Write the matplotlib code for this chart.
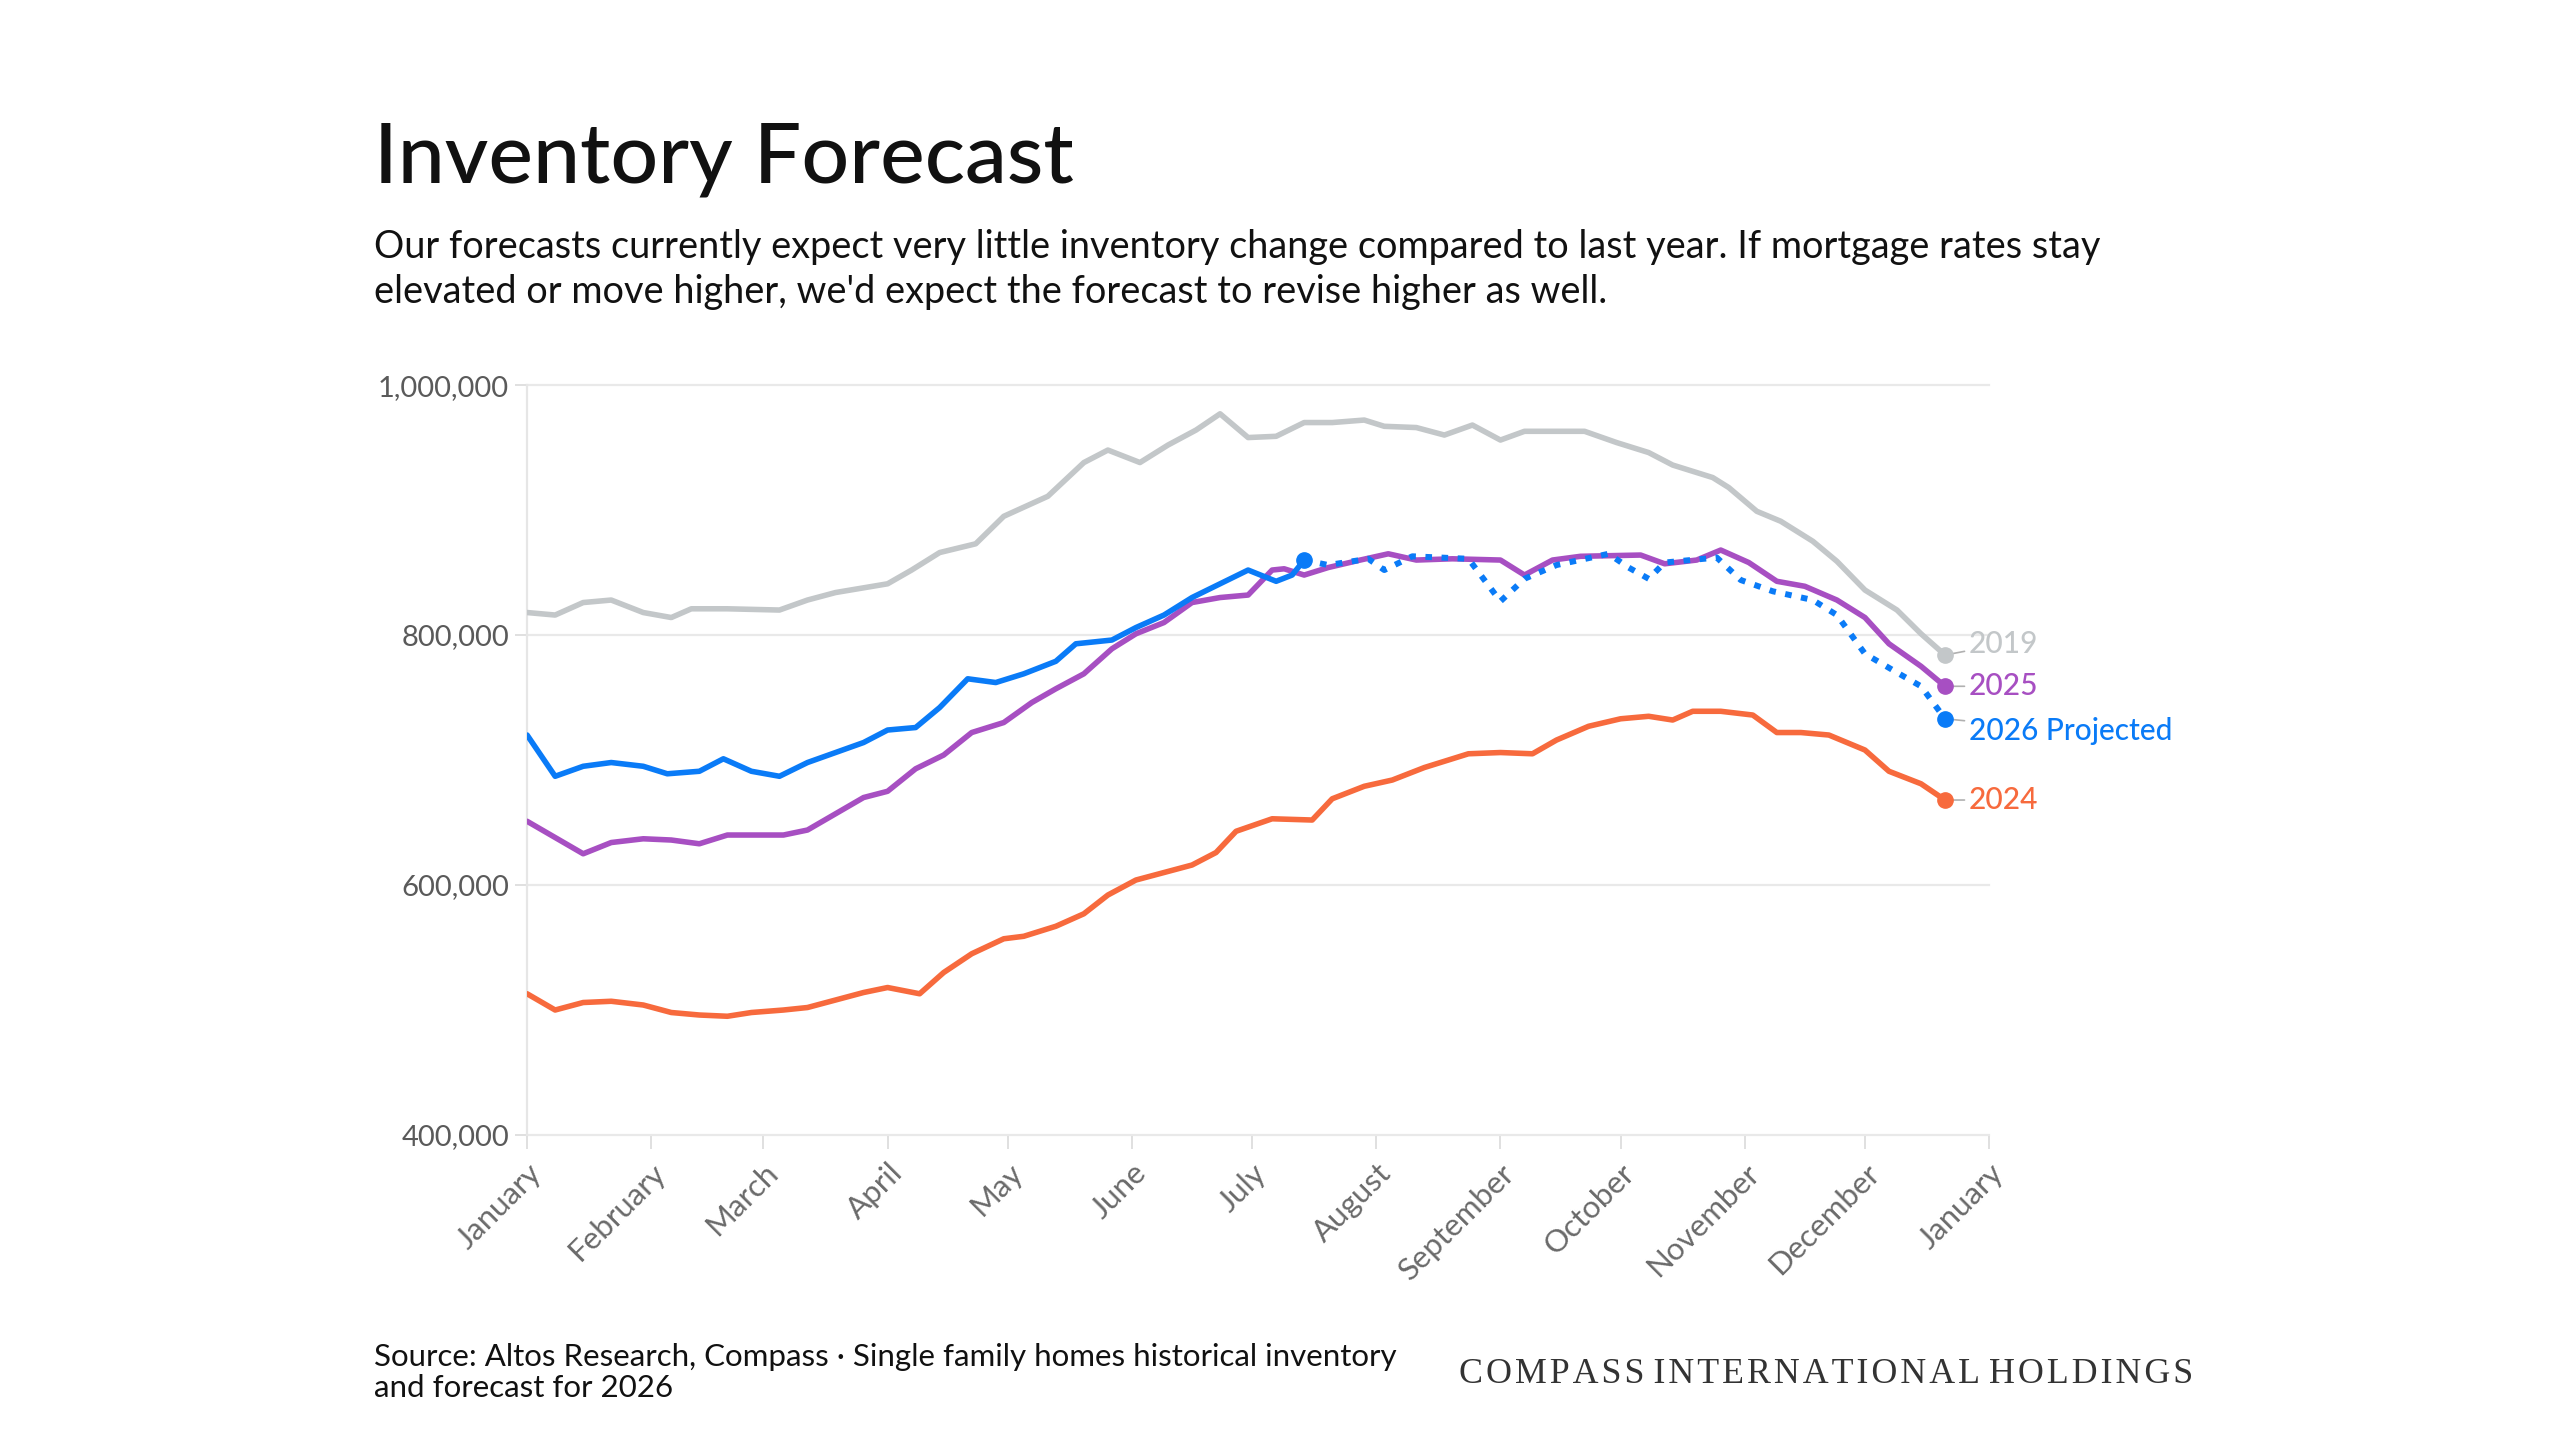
import matplotlib
matplotlib.use("Agg")
import matplotlib.pyplot as plt

# ---------------- data (day of year, inventory in thousands) ----------------
days_2019 = [0, 7, 14, 21, 29, 36, 41, 50, 63, 70, 77, 90, 96, 103, 112, 119, 130, 139, 145, 153,
             160, 167, 173, 180, 187, 194, 201, 209, 214, 222, 229, 236, 243, 249, 264, 272, 280,
             286, 296, 300, 307, 313, 321, 327, 334, 342, 348, 354]
vals_2019 = [818, 816, 826, 828, 818, 814, 821, 821, 820, 828, 834, 841, 852, 866, 873, 895, 911,
             938, 948, 938, 952, 964, 977, 958, 959, 970, 970, 972, 967, 966, 960, 968, 956, 963,
             963, 954, 946, 936, 926, 918, 899, 891, 875, 859, 836, 820, 801, 784]

days_2025 = [0, 7, 14, 21, 29, 36, 43, 50, 57, 64, 70, 77, 84, 90, 97, 104, 111, 119, 126, 132,
             139, 146, 152, 159, 166, 173, 180, 186, 189, 194, 200, 208, 215, 222, 231, 243, 249,
             256, 263, 278, 284, 292, 298, 305, 312, 319, 327, 334, 340, 348, 354]
vals_2025 = [651, 638, 625, 634, 637, 636, 633, 640, 640, 640, 644, 657, 670, 675, 693, 704, 722,
             730, 746, 757, 769, 789, 801, 810, 826, 830, 832, 852, 853, 848, 854, 860, 865, 860,
             861, 860, 848, 860, 863, 864, 857, 860, 868, 858, 843, 839, 828, 814, 793, 775, 759]

days_2026 = [0, 7, 14, 21, 29, 35, 43, 49, 56, 63, 70, 77, 84, 90, 97, 103, 110, 117, 124, 132,
             137, 146, 152, 159, 166, 173, 180, 187, 191, 194]
vals_2026 = [720, 687, 695, 698, 695, 689, 691, 701, 691, 687, 698, 706, 714, 724, 726, 742, 765,
             762, 769, 779, 793, 796, 806, 816, 830, 841, 852, 843, 848, 860]

days_2026p = [194, 200, 210, 214, 221, 235, 239, 243, 249, 257, 270, 275, 280, 284, 297, 303,
              311, 321, 327, 334, 342, 348, 354]
vals_2026p = [860, 856, 861, 852, 863, 861, 844, 827, 845, 856, 865, 854, 845, 858, 862, 844,
              835, 828, 816, 785, 770, 759, 733]

days_2024 = [0, 7, 14, 21, 29, 36, 43, 50, 56, 64, 70, 77, 84, 90, 98, 104, 111, 119, 124, 132,
             139, 145, 152, 159, 166, 172, 177, 186, 196, 201, 209, 216, 224, 230, 235, 243, 251,
             257, 265, 273, 280, 286, 291, 298, 306, 312, 318, 325, 334, 340, 348, 354]
vals_2024 = [513, 500, 506, 507, 504, 498, 496, 495, 498, 500, 502, 508, 514, 518, 513, 530, 545,
             557, 559, 567, 577, 592, 604, 610, 616, 626, 643, 653, 652, 669, 679, 684, 694, 700,
             705, 706, 705, 716, 727, 733, 735, 732, 739, 739, 736, 722, 722, 720, 708, 691, 681,
             668]

month_days = [0, 31, 59, 90, 120, 151, 181, 212, 243, 273, 304, 334, 365]
month_labels = ["January", "February", "March", "April", "May", "June", "July", "August",
                "September", "October", "November", "December", "January"]
y_ticks = [400000, 600000, 800000, 1000000]
y_tick_labels = ["400,000", "600,000", "800,000", "1,000,000"]

C_2019 = "#c3c7c9"
C_2025 = "#a74fc2"
C_2026 = "#0a7bf7"
C_2024 = "#f76a3d"

FONT = ["Lato", "DejaVu Sans"]
plt.rcParams["font.family"] = FONT

fig = plt.figure(figsize=(25.6, 14.4), dpi=100)
fig.patch.set_facecolor("white")
ax = fig.add_axes([0.2059, 0.2118, 0.5711, 0.5208])

k = 1000
lw = 4.0
ax.plot(days_2019, [v * k for v in vals_2019], color=C_2019, lw=lw, solid_joinstyle="round",
        solid_capstyle="round", zorder=3)
ax.plot(days_2024, [v * k for v in vals_2024], color=C_2024, lw=lw, solid_joinstyle="round",
        solid_capstyle="round", zorder=4)
ax.plot(days_2025, [v * k for v in vals_2025], color=C_2025, lw=lw, solid_joinstyle="round",
        solid_capstyle="round", zorder=5)
ax.plot(days_2026p, [v * k for v in vals_2026p], color=C_2026, lw=lw + 0.3, ls=(0, (1.1, 1.6)),
        dash_capstyle="butt", zorder=6)
ax.plot(days_2026, [v * k for v in vals_2026], color=C_2026, lw=lw, solid_joinstyle="round",
        solid_capstyle="round", zorder=7)

# end markers
ms = 11
for d, v, c in [(days_2019, vals_2019, C_2019), (days_2024, vals_2024, C_2024),
                (days_2025, vals_2025, C_2025), (days_2026p, vals_2026p, C_2026)]:
    ax.plot([d[-1]], [v[-1] * k], "o", color=c, ms=ms, zorder=8)
ax.plot([days_2026[-1]], [vals_2026[-1] * k], "o", color=C_2026, ms=ms, zorder=8)

# end labels with leader lines
labels = [("2019", days_2019, vals_2019, C_2019, 8),
          ("2025", days_2025, vals_2025, C_2025, 0),
          ("2026 Projected", days_2026p, vals_2026p, C_2026, -9),
          ("2024", days_2024, vals_2024, C_2024, 0)]
for txt, d, v, c, dy in labels:
    ax.annotate(txt, xy=(d[-1], v[-1] * k), xytext=(17, dy), textcoords="offset points",
                ha="left", va="center", fontsize=21.5, color=c, fontweight="medium",
                arrowprops=dict(arrowstyle="-", color="#b0b0b0", lw=1.2,
                                shrinkA=1, shrinkB=6), annotation_clip=False)

ax.set_xlim(0, 365)
ax.set_ylim(400000, 1000000)
ax.set_yticks(y_ticks)
ax.set_yticklabels(y_tick_labels)
ax.set_xticks(month_days)
ax.set_xticklabels(month_labels, rotation=45, ha="right", rotation_mode="anchor")

ax.grid(axis="y", color="#e9e9e9", lw=1.6)
for gl in ax.get_ygridlines():
    gl.set_clip_on(False)
ax.set_axisbelow(True)

for s in ["top", "right", "bottom"]:
    ax.spines[s].set_visible(False)
ax.spines["left"].set_color("#e6e6e6")
ax.spines["left"].set_linewidth(1.6)

ax.tick_params(axis="y", length=9, width=1.4, color="#e0e0e0", pad=4, labelsize=21,
               labelcolor="#5a5a5a")
ax.tick_params(axis="x", length=10, width=1.4, color="#e0e0e0", pad=7, labelsize=22.5,
               labelcolor="#6a6a6a")

# ---------------- texts ----------------
fig.text(0.146, 0.873, "Inventory Forecast", fontsize=60.5, color="#111111",
         fontweight="medium", ha="left", va="baseline")
fig.text(0.146, 0.8285, "Our forecasts currently expect very little inventory change compared to "
         "last year. If mortgage rates stay", fontsize=27.3, color="#111111", ha="left",
         va="center")
fig.text(0.146, 0.7975, "elevated or move higher, we'd expect the forecast to revise higher as well.",
         fontsize=27.3, color="#111111", ha="left", va="center")

fig.text(0.146, 0.0575, "Source: Altos Research, Compass \u00b7 Single family homes historical "
         "inventory", fontsize=22.5, color="#111111", ha="left", va="center")
fig.text(0.146, 0.0360, "and forecast for 2026", fontsize=22.5, color="#111111", ha="left",
         va="center")
fig.text(0.570, 0.0455, "C O M P A S S   I N T E R N A T I O N A L   H O L D I N G S".replace(" ", "\u200a"),
         fontsize=25.8, color="#333333", ha="left", va="center",
         family=["Liberation Serif", "DejaVu Serif"])

fig.savefig("out.png", dpi=100, facecolor="white")
